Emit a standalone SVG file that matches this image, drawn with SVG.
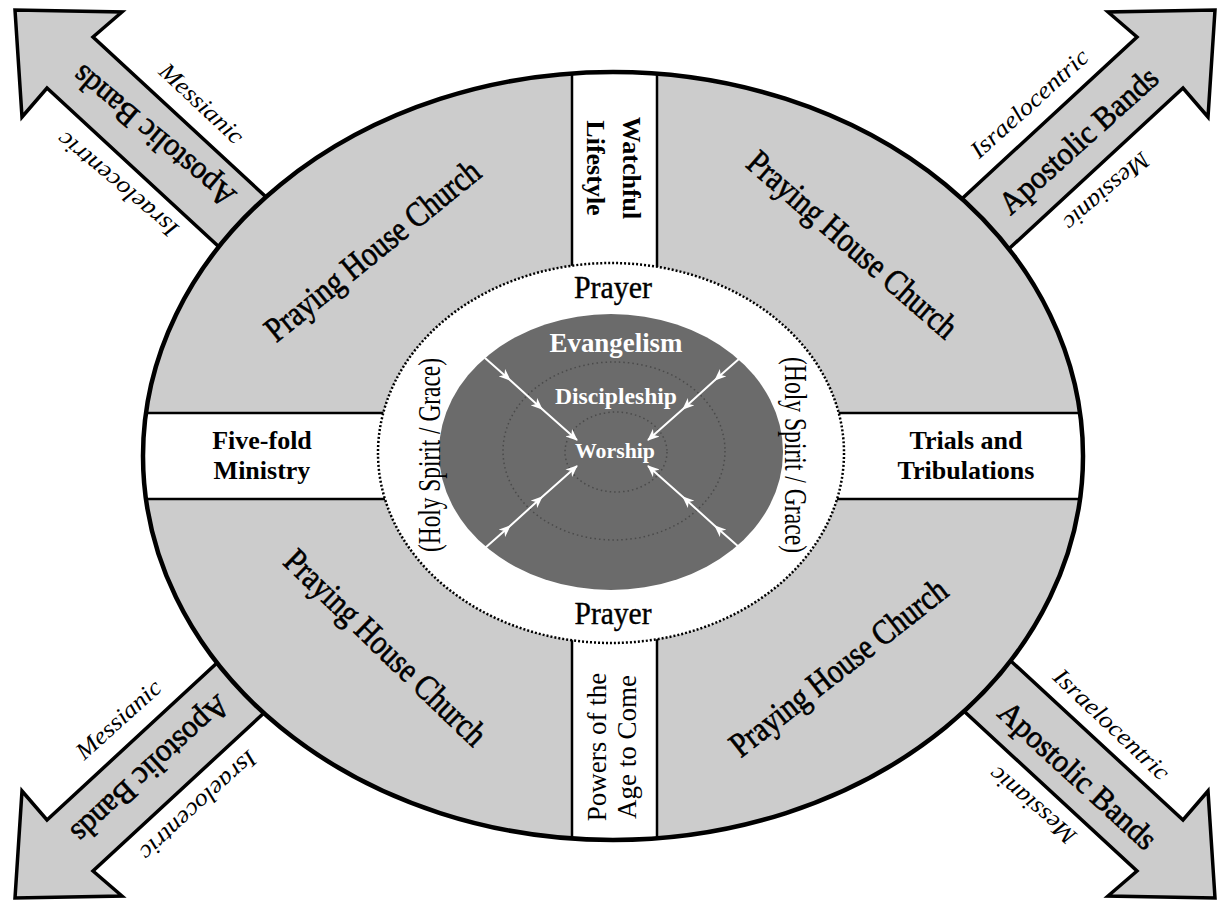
<svg xmlns="http://www.w3.org/2000/svg" width="1223" height="900" viewBox="0 0 1223 900">
<style>
.t{font-family:"Liberation Serif","Times New Roman",serif;fill:#000}
.b{font-weight:bold}
.i{font-style:italic}
.h{stroke:#000;stroke-width:0.7}
.w{fill:#fff;font-weight:bold}
.arrow{fill:#cccccc;stroke:#000;stroke-width:3.5;stroke-linejoin:miter}
.band{fill:#fff;stroke:#000;stroke-width:2.5}
.wl{stroke:#fff;stroke-width:2;fill:none}
</style>
<defs>
<clipPath id="outerClip"><ellipse cx="613" cy="456" rx="470" ry="384"/></clipPath>
<marker id="wh" viewBox="0 0 12 10" refX="11" refY="5" markerWidth="12" markerHeight="10" markerUnits="userSpaceOnUse" orient="auto">
<path d="M0,0 L12,5 L0,10 L3.5,5 z" fill="#fff"/>
</marker>
<polygon id="arr" points="939,220 1137,37 1108,12 1215,10 1208,117 1183,88 986,270"/>
</defs>
<rect x="0" y="0" width="1223" height="900" fill="#fff"/>

<g id="arrows">
<use href="#arr" class="arrow"/>
<use href="#arr" class="arrow" transform="matrix(-1 0 0 1 1230 0)"/>
<use href="#arr" class="arrow" transform="matrix(1 0 0 -1 0 908)"/>
<use href="#arr" class="arrow" transform="matrix(-1 0 0 -1 1230 908)"/>
</g>

<g id="outer-ellipse">
<ellipse cx="613" cy="456" rx="470" ry="384" fill="#cccccc"/>
<g clip-path="url(#outerClip)">
<rect class="band" x="572" y="-10" width="85" height="930"/>
<rect class="band" x="100" y="413" width="1030" height="86"/>
</g>
<ellipse cx="613" cy="456" rx="470" ry="384" fill="none" stroke="#000" stroke-width="4.5"/>
</g>

<g id="middle-ellipse">
<ellipse cx="611" cy="453" rx="233" ry="190" fill="#fff" stroke="#000" stroke-width="2.5" stroke-dasharray="2 2"/>
</g>

<g id="inner-ellipse">
<ellipse cx="611" cy="452" rx="172" ry="138" fill="#6b6b6b"/>
<ellipse cx="614" cy="451" rx="111" ry="89" fill="none" stroke="#4a4a4a" stroke-width="1.5" stroke-dasharray="1.5 3"/>
<ellipse cx="616" cy="452" rx="51" ry="40" fill="none" stroke="#4a4a4a" stroke-width="1.5" stroke-dasharray="1.5 3"/>
</g>

<g id="connectors">
<path class="wl" d="M485,358 L510,380 L542,409 L577,440" marker-mid="url(#wh)" marker-end="url(#wh)"/>
<path class="wl" d="M740,358 L715,380 L683,409 L648,440" marker-mid="url(#wh)" marker-end="url(#wh)"/>
<path class="wl" d="M485,548 L510,526 L542,497 L577,466" marker-mid="url(#wh)" marker-end="url(#wh)"/>
<path class="wl" d="M740,548 L715,526 L683,497 L648,466" marker-mid="url(#wh)" marker-end="url(#wh)"/>
</g>

<g id="core-labels">
<text class="t w" x="616" y="352" font-size="27" text-anchor="middle" textLength="133" lengthAdjust="spacingAndGlyphs">Evangelism</text>
<text class="t w" x="616" y="404" font-size="23" text-anchor="middle" textLength="122" lengthAdjust="spacingAndGlyphs">Discipleship</text>
<text class="t w" x="615" y="458" font-size="21" text-anchor="middle" textLength="80" lengthAdjust="spacingAndGlyphs">Worship</text>
</g>

<g id="prayer-ring">
<text class="t" x="613" y="298" font-size="31" text-anchor="middle" textLength="78" lengthAdjust="spacingAndGlyphs" stroke="#000" stroke-width="0.4">Prayer</text>
<text class="t" x="613" y="624" font-size="31" text-anchor="middle" textLength="77" lengthAdjust="spacingAndGlyphs" stroke="#000" stroke-width="0.4">Prayer</text>
<text class="t" transform="translate(440,455) rotate(-90)" font-size="31" text-anchor="middle" textLength="194" lengthAdjust="spacingAndGlyphs">(Holy Spirit / Grace)</text>
<text class="t" transform="translate(785,455) rotate(90)" font-size="31" text-anchor="middle" textLength="196" lengthAdjust="spacingAndGlyphs">(Holy Spirit / Grace)</text>
</g>

<g id="watchful-lifestyle">
<text class="t b" transform="translate(623,168) rotate(90)" font-size="26" text-anchor="middle"><tspan x="0" y="0">Watchful</tspan><tspan x="0" y="36">Lifestyle</tspan></text>
</g>
<g id="powers-age-to-come">
<text class="t" transform="translate(606,747) rotate(-90)" font-size="27" text-anchor="middle"><tspan x="0" y="0">Powers of the</tspan><tspan x="0" y="30">Age to Come</tspan></text>
</g>
<g id="five-fold-ministry">
<text class="t b" x="262" y="449" font-size="26" text-anchor="middle"><tspan x="262" y="449">Five-fold</tspan><tspan x="262" y="479">Ministry</tspan></text>
</g>
<g id="trials-tribulations">
<text class="t b" x="966" y="449" font-size="26" text-anchor="middle"><tspan x="966" y="449">Trials and</tspan><tspan x="966" y="479">Tribulations</tspan></text>
</g>

<g id="praying-house-churches">
<text class="t h" transform="translate(372,250) rotate(-39)" dy="0.35em" font-size="35" text-anchor="middle" textLength="266" lengthAdjust="spacingAndGlyphs">Praying House Church</text>
<text class="t h" transform="translate(853,244) rotate(41)" dy="0.35em" font-size="35" text-anchor="middle" textLength="266" lengthAdjust="spacingAndGlyphs">Praying House Church</text>
<text class="t h" transform="translate(386,647) rotate(44)" dy="0.35em" font-size="35" text-anchor="middle" textLength="266" lengthAdjust="spacingAndGlyphs">Praying House Church</text>
<text class="t h" transform="translate(838,667) rotate(-38)" dy="0.35em" font-size="35" text-anchor="middle" textLength="266" lengthAdjust="spacingAndGlyphs">Praying House Church</text>
</g>

<g id="band-top-right">
<text class="t h" transform="translate(1078,140) rotate(-42)" dy="0.35em" font-size="32" text-anchor="middle" textLength="202" lengthAdjust="spacingAndGlyphs">Apostolic Bands</text>
<text class="t i" transform="translate(1029,103) rotate(-42)" dy="0.35em" font-size="24" text-anchor="middle" textLength="150" lengthAdjust="spacingAndGlyphs">Israelocentric</text>
<text class="t i" transform="translate(1107,192) rotate(139)" dy="0.35em" font-size="24" text-anchor="middle" textLength="106" lengthAdjust="spacingAndGlyphs">Messianic</text>
</g>
<g id="band-top-left">
<text class="t h" transform="translate(153,137) rotate(-140)" dy="0.35em" font-size="32" text-anchor="middle" textLength="202" lengthAdjust="spacingAndGlyphs">Apostolic Bands</text>
<text class="t i" transform="translate(202,103) rotate(43)" dy="0.35em" font-size="24" text-anchor="middle" textLength="106" lengthAdjust="spacingAndGlyphs">Messianic</text>
<text class="t i" transform="translate(117,185) rotate(-140)" dy="0.35em" font-size="24" text-anchor="middle" textLength="150" lengthAdjust="spacingAndGlyphs">Israelocentric</text>
</g>
<g id="band-bottom-left">
<text class="t h" transform="translate(151,770) rotate(137.5)" dy="0.35em" font-size="32" text-anchor="middle" textLength="202" lengthAdjust="spacingAndGlyphs">Apostolic Bands</text>
<text class="t i" transform="translate(118,719) rotate(-42)" dy="0.35em" font-size="24" text-anchor="middle" textLength="106" lengthAdjust="spacingAndGlyphs">Messianic</text>
<text class="t i" transform="translate(199,806) rotate(137.5)" dy="0.35em" font-size="24" text-anchor="middle" textLength="150" lengthAdjust="spacingAndGlyphs">Israelocentric</text>
</g>
<g id="band-bottom-right">
<text class="t h" transform="translate(1078,775) rotate(42.5)" dy="0.35em" font-size="32" text-anchor="middle" textLength="202" lengthAdjust="spacingAndGlyphs">Apostolic Bands</text>
<text class="t i" transform="translate(1112,724) rotate(43.5)" dy="0.35em" font-size="24" text-anchor="middle" textLength="150" lengthAdjust="spacingAndGlyphs">Israelocentric</text>
<text class="t i" transform="translate(1032,806) rotate(-139.5)" dy="0.35em" font-size="24" text-anchor="middle" textLength="106" lengthAdjust="spacingAndGlyphs">Messianic</text>
</g>
</svg>
